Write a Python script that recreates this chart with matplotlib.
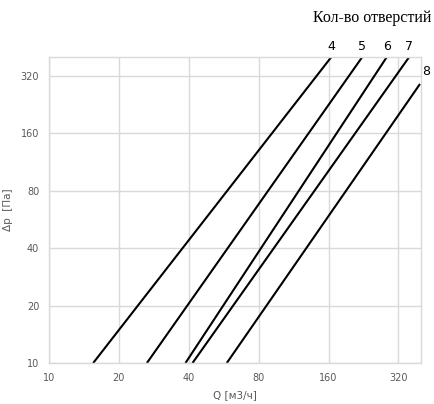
import matplotlib
matplotlib.use('Agg')
import matplotlib.pyplot as plt
from matplotlib.ticker import FixedLocator, NullLocator

# Q [m3/h] at the lower and upper ends of each curve, with matching dp [Pa]
holes = ['4', '5', '6', '7', '8']
q_low = [15.5, 26.4, 38.7, 41.5, 58.3]
q_high = [164.4, 223.4, 285.0, 355.8, 396.0]
dp_low = [10, 10, 10, 10, 10]
dp_high = [400, 400, 400, 400, 289]

ticks = [10, 20, 40, 80, 160, 320]

fig = plt.figure(figsize=(4.34, 4.04), dpi=100)
ax = fig.add_axes([49 / 434, 1 - 363 / 404, (421 - 49) / 434, (363 - 57) / 404])

ax.set_xscale('log')
ax.set_yscale('log')
ax.set_xlim(10, 400)
ax.set_ylim(10, 400)

for name, x0, x1, y0, y1 in zip(holes, q_low, q_high, dp_low, dp_high):
    ax.plot([x0, x1], [y0, y1], color='black', lw=1.5, solid_capstyle='butt')
    if name == '8':
        ax.text(x1 * 1.02, y1 * 1.07, name, fontsize=9, ha='left', va='bottom')
    else:
        ax.text(x1, y1 * 1.05, name, fontsize=9, ha='center', va='bottom')

grid_color = '#d9d9d9'
for t in ticks:
    ax.axvline(t, color=grid_color, lw=1, zorder=0)
    ax.axhline(t, color=grid_color, lw=1, zorder=0)

ax.xaxis.set_major_locator(FixedLocator(ticks))
ax.yaxis.set_major_locator(FixedLocator(ticks))
ax.xaxis.set_minor_locator(NullLocator())
ax.yaxis.set_minor_locator(NullLocator())
ax.set_xticklabels([str(t) for t in ticks])
ax.set_yticklabels([str(t) for t in ticks])
ax.tick_params(length=0, labelsize=7, colors='#595959', pad=7)

for side in ['top', 'right', 'left', 'bottom']:
    ax.spines[side].set_color(grid_color)
    ax.spines[side].set_linewidth(1)

ax.set_xlabel('Q [м3/ч]', fontsize=7.5, color='#595959', labelpad=5)
ax.set_ylabel('Δp  [Па]', fontsize=7.5, color='#595959')
ax.yaxis.set_label_coords((13 - 49) / 372, 0.5)

fig.text(431 / 434, 1 - 18 / 404, 'Кол-во отверстий', fontsize=11.5,
         family='Liberation Serif', ha='right', va='center')

plt.savefig('out.png', dpi=100)
